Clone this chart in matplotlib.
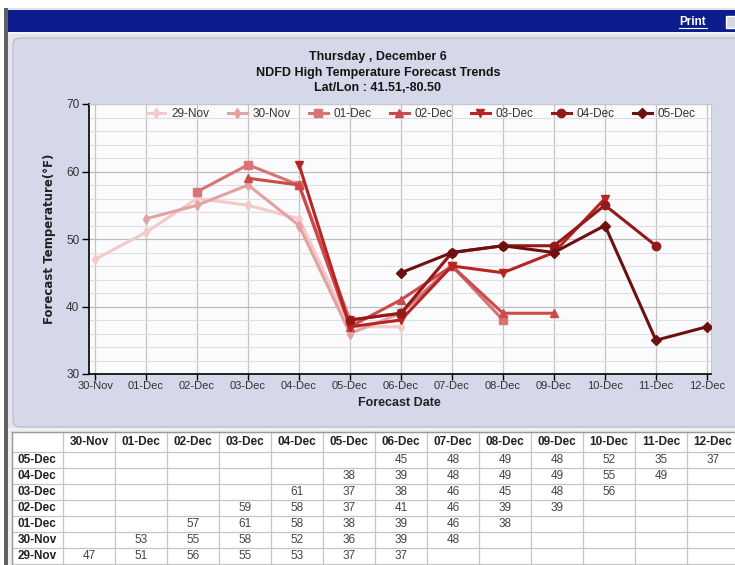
import numpy as np
import matplotlib.pyplot as plt
from matplotlib.patches import Rectangle, FancyBboxPatch

# forecast target dates (x axis) and issue dates (one series each)
dates = ["30-Nov", "01-Dec", "02-Dec", "03-Dec", "04-Dec", "05-Dec", "06-Dec",
         "07-Dec", "08-Dec", "09-Dec", "10-Dec", "11-Dec", "12-Dec"]
issued = ["29-Nov", "30-Nov", "01-Dec", "02-Dec", "03-Dec", "04-Dec", "05-Dec"]

# first forecast date index for each issue, then the highs it forecast
start_idx = [0, 1, 2, 3, 4, 5, 6]
t_29nov = [47, 51, 56, 55, 53, 37, 37]
t_30nov = [53, 55, 58, 52, 36, 39, 48]
t_01dec = [57, 61, 58, 38, 39, 46, 38]
t_02dec = [59, 58, 37, 41, 46, 39, 39]
t_03dec = [61, 37, 38, 46, 45, 48, 56]
t_04dec = [38, 39, 48, 49, 49, 55, 49]
t_05dec = [45, 48, 49, 48, 52, 35, 37]
temps = [t_29nov, t_30nov, t_01dec, t_02dec, t_03dec, t_04dec, t_05dec]

colors = ["#f2caca", "#e3a2a2", "#d87474", "#cc4a4a", "#b82424", "#941a1a", "#6c1010"]
markers = ["d", "d", "s", "^", "v", "o", "D"]

W, H = 735, 565
fig = plt.figure(figsize=(W / 100, H / 100), dpi=100)
fig.patch.set_facecolor("white")

# page chrome drawn in pixel coordinates
bg = fig.add_axes([0, 0, 1, 1], zorder=0)
bg.set_xlim(0, W)
bg.set_ylim(H, 0)
bg.axis("off")

bg.add_patch(Rectangle((5, 8), W, H, fc="#e2e4ee", ec="none"))
bg.add_patch(Rectangle((4, 8), 4, H, fc="#606060", ec="none"))
bg.add_patch(Rectangle((8, 10), W, 22, fc="#0c1c8c", ec="none"))
bg.add_patch(Rectangle((8, 32), W, 2, fc="#f4f4f8", ec="none"))
bg.add_patch(FancyBboxPatch((13, 38), W, 389, boxstyle="round,pad=0,rounding_size=7",
                            fc="#d4d8e8", ec="#b4b8c8", lw=0.8))
bg.add_patch(Rectangle((8, 428), W, H, fc="#f0f1f5", ec="none"))
bg.text(693, 22, "Print", color="white", fontsize=8.5, fontweight="bold",
        family="Liberation Sans", ha="center", va="center")
bg.plot([679, 707], [28, 28], color="white", lw=0.8)
bg.add_patch(Rectangle((726, 16), 12, 12, fc="#d8d8e0", ec="white", lw=1))

# titles
for y, s in [(57, "Thursday , December 6"),
             (73, "NDFD High Temperature Forecast Trends"),
             (88, "Lat/Lon : 41.51,-80.50")]:
    bg.text(378, y, s, fontsize=9, fontweight="bold", family="Liberation Sans",
            color="#151515", ha="center", va="center")
bg.text(50, 239, "Forecast Temperature(\u00b0F)", rotation=90, fontsize=8.5,
        fontweight="bold", family="DejaVu Sans", color="#222222",
        ha="center", va="center")
bg.text(399, 403, "Forecast Date", fontsize=9, fontweight="bold",
        family="Liberation Sans", color="#222222", ha="center", va="center")

# table of forecast highs
col0, col_w = 12, 52
x_edges = [col0, 63] + [63 + col_w * (i + 1) for i in range(len(dates))]
y_edges = [432, 452] + [452 + 16 * (i + 1) for i in range(len(issued))]
bg.add_patch(Rectangle((col0, 432), W, H, fc="white", ec="none"))
for xe in x_edges:
    bg.plot([xe, xe], [432, H], color="#c4c4c4", lw=0.9)
for ye in y_edges:
    bg.plot([col0, W], [ye, ye], color="#c4c4c4", lw=0.9)
bg.plot([col0, W], [432, 432], color="#9a9a9a", lw=1)
bg.plot([col0, col0], [432, H], color="#9a9a9a", lw=1)

for j, d in enumerate(dates):
    xc = (x_edges[j + 1] + x_edges[j + 2]) / 2
    bg.text(xc, 442, d, fontsize=8.5, fontweight="bold", family="Liberation Sans",
            color="#222222", ha="center", va="center")
for r, iss in enumerate(reversed(issued)):
    k = len(issued) - 1 - r
    yc = (y_edges[r + 1] + y_edges[r + 2]) / 2
    bg.text(18, yc, iss, fontsize=8.5, fontweight="bold", family="Liberation Sans",
            color="#222222", ha="left", va="center")
    for n, v in enumerate(temps[k]):
        j = start_idx[k] + n
        xc = (x_edges[j + 1] + x_edges[j + 2]) / 2
        bg.text(xc, yc, str(v), fontsize=8.5, family="Liberation Sans",
                color="#444444", ha="center", va="center")

# the chart itself
left, right, top, bottom = 89, 711, 104, 374
ax = fig.add_axes([left / W, 1 - bottom / H, (right - left) / W, (bottom - top) / H], zorder=2)
ax.set_facecolor("#fbfbfd")
x = np.arange(len(dates))
ax.set_xlim(-0.12, 12.08)
ax.set_ylim(30, 70)
ax.set_xticks(x)
ax.set_xticklabels(dates)
ax.set_yticks([30, 40, 50, 60, 70])
ax.set_yticks(np.arange(30, 71, 2), minor=True)
ax.tick_params(axis="y", which="major", length=5, width=1, color="black",
               labelsize=8.5, labelcolor="#333333", pad=2)
ax.tick_params(axis="y", which="minor", length=0)
ax.tick_params(axis="x", length=4, width=1, color="black", labelsize=8,
               labelcolor="#333333", pad=1)
for lab in ax.get_xticklabels() + ax.get_yticklabels():
    lab.set_family("Liberation Sans")
ax.grid(axis="y", which="minor", color="#e0e0e0", lw=0.8)
ax.grid(axis="y", which="major", color="#bdbdbd", lw=0.9)
ax.grid(axis="x", which="major", color="#c4c4c4", lw=0.9)
ax.set_axisbelow(True)
for s in ["top", "right"]:
    ax.spines[s].set_color("#c8c8c8")
for s in ["left", "bottom"]:
    ax.spines[s].set_color("black")
    ax.spines[s].set_linewidth(1.2)

for k, iss in enumerate(issued):
    xs = x[start_idx[k]:start_idx[k] + len(temps[k])]
    ms = 5 if markers[k] in ("d", "D") else 6
    ax.plot(xs, temps[k], color=colors[k], lw=2.2, marker=markers[k], ms=ms,
            mec=colors[k], mfc=colors[k], label=iss, zorder=3 + k)

leg = ax.legend(ncol=7, loc="upper center", bbox_to_anchor=(0.534, 1.025), frameon=False,
                handlelength=1.6, handletextpad=0.5, columnspacing=1.55,
                prop={"family": "Liberation Sans", "size": 8.5})
for t in leg.get_texts():
    t.set_color("#333333")

fig.savefig("out.png", dpi=100)
